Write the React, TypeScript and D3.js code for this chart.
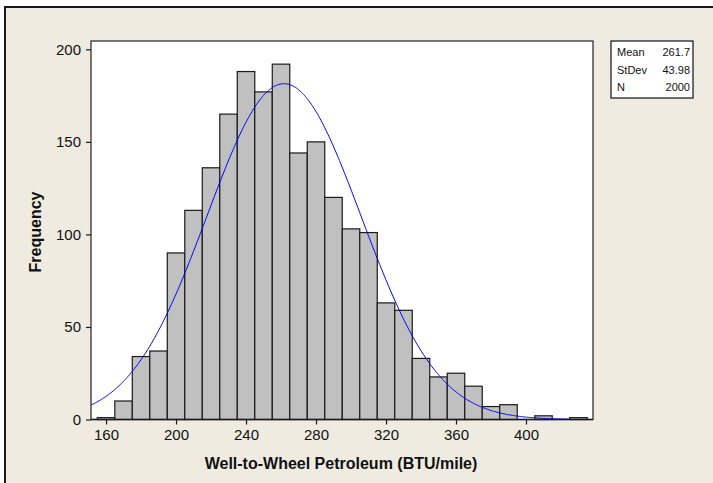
import React, { useEffect, useRef } from "react";
import * as d3 from "d3";

// bin centres (width 10) and counts
const binCenters = [
  160, 170, 180, 190, 200, 210, 220, 230, 240, 250, 260, 270, 280, 290,
  300, 310, 320, 330, 340, 350, 360, 370, 380, 390, 400, 410, 420, 430,
];
const frequencies = [
  1, 10, 34, 37, 90, 113, 136, 165, 188, 177, 192, 144, 150, 120,
  103, 101, 63, 59, 33, 23, 25, 18, 7, 8, 0, 2, 0, 1,
];
const binWidth = 10;

const xTicks = [160, 200, 240, 280, 320, 360, 400];
const yTicks = [0, 50, 100, 150, 200];

const statLabels = ["Mean", "StDev", "N"];
const statValues = ["261.7", "43.98", "2000"];
const mean = 261.7;
const stdev = 43.98;
const count = 2000;

const App = () => {
  const svgRef = useRef<SVGSVGElement>(null);

  useEffect(() => {
    const width = 713, height = 483;
    const plot = { left: 91, right: 593, top: 41, bottom: 419.5 };
    const font = "'Liberation Sans', Arial, sans-serif";

    const svg = d3.select(svgRef.current)
      .attr("width", width)
      .attr("height", height);
    svg.selectAll("*").remove();

    const x = d3.scaleLinear().domain([151.4, 438.3]).range([plot.left, plot.right]);
    const y = d3.scaleLinear().domain([0, 204.5]).range([plot.bottom, plot.top]);

    // background + window frame
    svg.append("rect").attr("width", width).attr("height", height).attr("fill", "#fff");
    svg.append("rect").attr("x", 5).attr("y", 7).attr("width", width).attr("height", height)
      .attr("fill", "#efebe1");
    svg.append("path").attr("d", `M5,${height}V7H${width}`)
      .attr("fill", "none").attr("stroke", "#1a1a1a").attr("stroke-width", 2);

    // plot area
    svg.append("rect")
      .attr("x", plot.left).attr("y", plot.top)
      .attr("width", plot.right - plot.left).attr("height", plot.bottom - plot.top)
      .attr("fill", "#fff").attr("stroke", "#222").attr("stroke-width", 1.2);

    // bars
    svg.append("g")
      .selectAll("rect")
      .data(binCenters.map((c, i) => ({ c, f: frequencies[i] })).filter(d => d.f > 0))
      .enter().append("rect")
      .attr("x", d => x(d.c - binWidth / 2))
      .attr("y", d => y(d.f))
      .attr("width", d => x(d.c + binWidth / 2) - x(d.c - binWidth / 2))
      .attr("height", d => y(0) - y(d.f))
      .attr("fill", "#c0c0c0")
      .attr("stroke", "#1a1a1a")
      .attr("stroke-width", 1.2);

    // fitted normal curve
    const scaleN = (count * binWidth) / (stdev * Math.sqrt(2 * Math.PI));
    const curvePts = d3.range(151.4, 425.2, 0.5).map(v => {
      const z = (v - mean) / stdev;
      return [v, scaleN * Math.exp(-0.5 * z * z)] as [number, number];
    });
    svg.append("path")
      .datum(curvePts)
      .attr("d", d3.line<[number, number]>().x(d => x(d[0])).y(d => y(d[1])))
      .attr("fill", "none")
      .attr("stroke", "#0000ff")
      .attr("stroke-width", 1);

    // axes
    const xAxis = svg.append("g")
      .attr("transform", `translate(0,${plot.bottom})`)
      .call(d3.axisBottom(x).tickValues(xTicks).tickSize(5).tickSizeOuter(0).tickPadding(5));
    const yAxis = svg.append("g")
      .attr("transform", `translate(${plot.left},0)`)
      .call(d3.axisLeft(y).tickValues(yTicks).tickSize(5).tickSizeOuter(0).tickPadding(5));
    [xAxis, yAxis].forEach(a => {
      a.select(".domain").attr("stroke", "#1a1a1a").attr("stroke-width", 1.5);
      a.selectAll(".tick line").attr("stroke", "#1a1a1a").attr("stroke-width", 1.2);
      a.selectAll("text").attr("font-family", font).attr("font-size", 15).attr("fill", "#111");
    });
    yAxis.select(".domain").remove();
    xAxis.select(".domain").attr("d", `M${plot.left},0H${plot.right}`);

    // axis titles
    svg.append("text")
      .attr("x", (plot.left + plot.right) / 2 - 1).attr("y", 469)
      .attr("text-anchor", "middle")
      .attr("font-family", font).attr("font-size", 16).attr("font-weight", "bold")
      .attr("fill", "#111")
      .text("Well-to-Wheel Petroleum (BTU/mile)");
    svg.append("text")
      .attr("transform", "translate(41,232) rotate(-90)")
      .attr("text-anchor", "middle")
      .attr("font-family", font).attr("font-size", 16).attr("font-weight", "bold")
      .attr("fill", "#111")
      .text("Frequency");

    // stats box
    const box = svg.append("g");
    box.append("rect")
      .attr("x", 611).attr("y", 41).attr("width", 82).attr("height", 57)
      .attr("fill", "#fff").attr("stroke", "#111").attr("stroke-width", 1.2);
    statLabels.forEach((l, i) => {
      box.append("text")
        .attr("x", 617).attr("y", 56 + i * 17.5)
        .attr("font-family", font).attr("font-size", 11).attr("fill", "#111")
        .text(l);
      box.append("text")
        .attr("x", 690).attr("y", 56 + i * 17.5)
        .attr("text-anchor", "end")
        .attr("font-family", font).attr("font-size", 11).attr("fill", "#111")
        .text(statValues[i]);
    });
  }, []);

  return <svg ref={svgRef} style={{ position: "absolute", left: 0, top: 0 }}></svg>;
};

export default App;
